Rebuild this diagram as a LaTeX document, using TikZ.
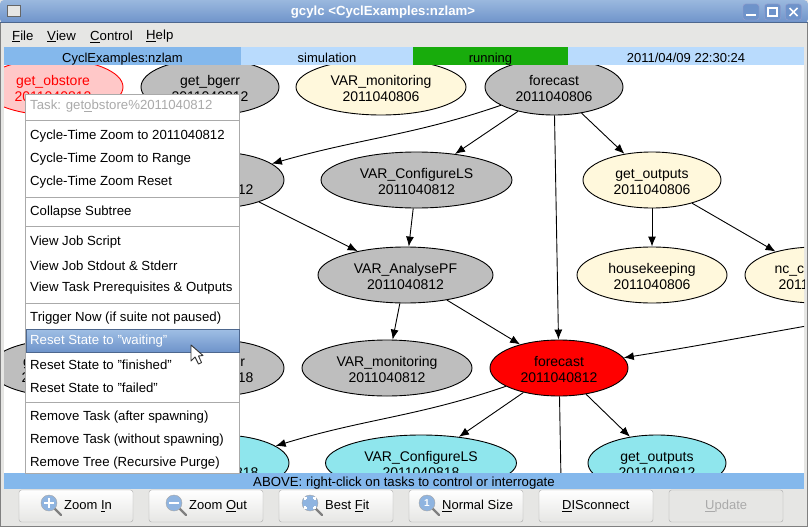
\documentclass[tikz,border=0pt]{standalone}
\usepackage{fontspec}
\setmainfont{Liberation Sans}
\usetikzlibrary{shapes.geometric, arrows.meta}

\definecolor{chrome}{HTML}{E6E6E4}
\definecolor{barA}{HTML}{84B8EC}
\definecolor{barB}{HTML}{B9DBFD}
\definecolor{barC}{HTML}{18AC0C}
\definecolor{ghost}{HTML}{BEBEBE}
\definecolor{cream}{HTML}{FFF8DC}
\definecolor{cyanish}{HTML}{8FE6ED}
\definecolor{pinkish}{HTML}{FFC8C8}
\definecolor{edgegrey}{HTML}{AAAAAA}
\definecolor{titletop}{HTML}{9AB8DE}
\definecolor{titlebot}{HTML}{6E93CA}
\definecolor{lensblue}{HTML}{8FB4E0}

\newcommand{\lens}[2]{
    \draw[line width = 2.2pt, color = gray, line cap = round] (#1 + 6, #2 - 6) -- (#1 + 12, #2 - 12);
    \draw[fill = lensblue, draw = gray!70] (#1, #2) circle (8);
}

\begin{document}
\begin{tikzpicture}[
        x = 1pt, y = 1pt,
        task/.style = {draw, ellipse, line width = 0.9pt, inner sep = 0mm, minimum width = 138pt, minimum height = 56pt, align = center, text height = 30pt, text depth = 2pt, font = {\fontsize{14}{16}\selectfont}},
        waiting/.style = {task, fill = cream},
        done/.style = {task, fill = ghost},
        queued/.style = {task, fill = cyanish},
        arr/.style = {draw, line width = 0.9pt, -{Latex[length = 10pt, width = 8pt]}},
        bar/.style = {inner sep = 0mm, minimum height = 18pt, text height = 13pt, text depth = 1.5pt, font = {\fontsize{13}{15}\selectfont}},
        item/.style = {anchor = west, inner sep = 0mm, yshift = -1.5pt, font = {\fontsize{13.2}{15}\selectfont}},
        sep/.style = {draw = edgegrey, line width = 1pt},
        btn/.style = {draw = edgegrey, rounded corners = 2.5pt, top color = white, bottom color = chrome, minimum width = 114pt, minimum height = 32pt, inner sep = 0mm},
        btntext/.style = {anchor = west, inner sep = 0mm, yshift = -1pt, font = {\fontsize{13}{15}\selectfont}},
        winbtn/.style = {draw = white!70!blue!60!gray, rounded corners = 2.5pt, fill = titlebot, minimum width = 16pt, minimum height = 16pt, inner sep = 0mm},
    ]
    \useasboundingbox (0, 0) rectangle (808, -527);
    \fill[chrome] (0, 0) rectangle (808, -527);
    \draw[gray, line width = 1pt] (0.5, -22) -- (0.5, -526.5) -- (807.5, -526.5) -- (807.5, -22);
    \fill[white] (4, -65) rectangle (804, -473);

    \begin{scope}
        \clip (4, -65) rectangle (804, -473);
        \node (OB) at (53, -87) [task, draw = red, fill = pinkish, text = red, minimum width = 140pt] {get\_obstore\\2011040812};
        \node (BG) at (210, -87) [done] {get\_bgerr\\2011040812};
        \node (MA) at (381, -87) [waiting, minimum width = 170pt] {VAR\_monitoring\\2011040806};
        \node (FA) at (554, -87) [done] {forecast\\2011040806};

        \node (EX) at (215, -180) [done] {~\\2011040812};
        \node (CA) at (416.5, -180) [done, minimum width = 191pt] {VAR\_ConfigureLS\\2011040812};
        \node (GA) at (652, -180) [waiting] {get\_outputs\\2011040806};

        \node (AN) at (405.5, -275) [done, minimum width = 175pt] {VAR\_AnalysePF\\2011040812};
        \node (HK) at (652, -275) [waiting, minimum width = 150pt] {housekeeping\\2011040806};
        \node (NC) at (816, -275) [waiting, minimum width = 142pt] {\makebox[83pt][l]{nc\_c}\\\makebox[75pt][l]{2011}};

        \node (OC) at (60, -368) [done, minimum width = 140pt] {get\_obstore\\2011040818};
        \node (BC) at (215, -368) [done] {get\_bgerr\\2011040818};
        \node (MB) at (387, -368) [done, minimum width = 170pt] {VAR\_monitoring\\2011040812};
        \node (FB) at (559, -368) [task, fill = red] {forecast\\2011040812};

        \node (EY) at (220, -463) [queued] {~\\2011040818};
        \node (CB) at (421, -463) [queued, minimum width = 191pt] {VAR\_ConfigureLS\\2011040818};
        \node (GB) at (657, -463) [queued] {get\_outputs\\2011040812};

        \coordinate (IN) at (812, -325);
        \coordinate (OUT) at (561, -480);

        \path[arr] (FA) to[out = 199, in = 16] (EX);
        \path[arr] (FA) -- (CA);
        \path[arr] (FA) -- (FB);
        \path[arr] (FA) -- (GA);
        \path[arr] (EX) -- (AN);
        \path[arr] (CA) -- (AN);
        \path[arr] (AN) -- (MB);
        \path[arr] (AN) -- (FB);
        \path[arr] (GA) -- (HK);
        \path[arr] (GA) -- (NC);
        \path[arr] (IN) to[out = 190, in = 9] (FB);
        \path[arr] (FB) to[out = 199, in = 17] (EY);
        \path[arr] (FB) -- (CB);
        \path[draw, line width = 0.9pt] (FB) -- (OUT);
        \path[arr] (FB) -- (GB);
    \end{scope}

    \shade[top color = titletop, bottom color = titlebot, rounded corners = 4pt] (0, -23) -- (0, 0) -- (808, 0) -- (808, -23) -- cycle;
    \draw[titlebot!70!black, line width = 0.8pt] (0, -22.5) -- (808, -22.5);
    \node (T) at (383, -12) [text = white, inner sep = 0mm, font = {\fontsize{13.2}{15}\bfseries\selectfont}] {gcylc <CyclExamples:nzlam>};
    \node (W0) at (14, -11) [draw = black!60, fill = chrome, minimum width = 13pt, minimum height = 11pt, inner sep = 0mm] {};
    \node (W1) at (751, -12) [winbtn] {};
    \node (W2) at (772.5, -12) [winbtn] {};
    \node (W3) at (793.5, -12) [winbtn] {};
    \draw[white, line width = 1.2pt] (746, -15) -- (756, -15);
    \draw[white, line width = 1.2pt] (768, -8) rectangle (777, -16);
    \draw[white, line width = 1.6pt] (789.5, -8) -- (797.5, -16) (797.5, -8) -- (789.5, -16);

    \node (M1) at (12, -35) [item] {\underline{F}ile};
    \node (M2) at (47, -35) [item] {\underline{V}iew};
    \node (M3) at (90, -35) [item] {\underline{C}ontrol};
    \node (M4) at (146, -35) [item] {\underline{H}elp};

    \node (S1) at (122.5, -56.5) [bar, fill = barA, minimum width = 237pt] {CyclExamples:nzlam};
    \node (S2) at (327, -56.5) [bar, fill = barB, minimum width = 172pt] {simulation};
    \node (S3) at (490.5, -56.5) [bar, fill = barC, minimum width = 155pt] {running};
    \node (S4) at (686, -56.5) [bar, fill = barB, minimum width = 236pt] {2011/04/09 22:30:24};

    \node (BAR) at (404, -481) [bar, fill = barA, minimum width = 800pt, minimum height = 16pt, font = {\fontsize{13.2}{15}\selectfont}] {ABOVE: right-click on tasks to control or interrogate};

    \filldraw[fill = white, draw = edgegrey, line width = 1pt] (25.5, -94) rectangle (239.5, -473);
    \shade[top color = lensblue!85!white, bottom color = titlebot] (26, -329) rectangle (239, -352);
    \draw[titlebot!70!black, line width = 0.8pt] (26, -329) rectangle (239, -352);
    \draw[sep] (26, -120) -- (239, -120);
    \draw[sep] (26, -197) -- (239, -197);
    \draw[sep] (26, -226) -- (239, -226);
    \draw[sep] (26, -303) -- (239, -303);
    \draw[sep] (26, -402) -- (239, -402);

    \node (I0) at (30, -105) [item, text = edgegrey] {Task: get\underline{o}bstore\%2011040812};
    \node (I1) at (30, -135) [item] {Cycle-Time Zoom to 2011040812};
    \node (I2) at (30, -158) [item] {Cycle-Time Zoom to Range};
    \node (I3) at (30, -181) [item] {Cycle-Time Zoom Reset};
    \node (I4) at (30, -211) [item] {Collapse Subtree};
    \node (I5) at (30, -241) [item] {View Job Script};
    \node (I6) at (30, -264) [item] {View Job Stdout \& Stderr};
    \node (I7) at (30, -287) [item] {View Task Prerequisites \& Outputs};
    \node (I8) at (30, -317) [item] {Trigger Now (if suite not paused)};
    \node (I9) at (30, -340) [item, text = white] {Reset State to "waiting"};
    \node (I10) at (30, -363) [item] {Reset State to "finished"};
    \node (I11) at (30, -386) [item] {Reset State to "failed"};
    \node (I12) at (30, -416) [item] {Remove Task (after spawning)};
    \node (I13) at (30, -439) [item] {Remove Task (without spawning)};
    \node (I14) at (30, -462) [item] {Remove Tree (Recursive Purge)};

    \filldraw[fill = white, draw = black!80, line width = 0.9pt, line join = round] (191, -345) -- (191, -361) -- (195, -357) -- (198.5, -364) -- (201.5, -362.5) -- (198.5, -356) -- (203, -355.5) -- cycle;

    \node (B1) at (76, -506) [btn] {};
    \node (B2) at (206, -506) [btn] {};
    \node (B3) at (336, -506) [btn] {};
    \node (B4) at (466, -506) [btn] {};
    \node (B5) at (596, -506) [btn] {};
    \node (B6) at (726, -506) [btn, top color = chrome, bottom color = chrome] {};

    \lens{49}{-503}
    \lens{174}{-503}
    \lens{310}{-503}
    \lens{427}{-503}
    \draw[white, line width = 2pt] (44, -503) -- (54, -503) (49, -498) -- (49, -508);
    \draw[white, line width = 2pt] (169, -503) -- (179, -503);
    \draw[white, line width = 1.2pt] (305, -500) -- (305, -498) -- (307, -498) (313, -498) -- (315, -498) -- (315, -500) (315, -506) -- (315, -508) -- (313, -508) (307, -508) -- (305, -508) -- (305, -506);
    \node (ONE) at (427, -503) [text = white, inner sep = 0mm, font = {\fontsize{10}{12}\bfseries\selectfont}] {1};

    \node (L1) at (64, -505) [btntext] {Zoom \underline{I}n};
    \node (L2) at (189, -505) [btntext] {Zoom \underline{O}ut};
    \node (L3) at (325, -505) [btntext] {Best \underline{F}it};
    \node (L4) at (442, -505) [btntext] {\underline{N}ormal Size};
    \node (L5) at (562, -505) [btntext] {\underline{D}ISconnect};
    \node (L6) at (705, -505) [btntext, text = edgegrey] {\underline{U}pdate};
\end{tikzpicture}
\end{document}
